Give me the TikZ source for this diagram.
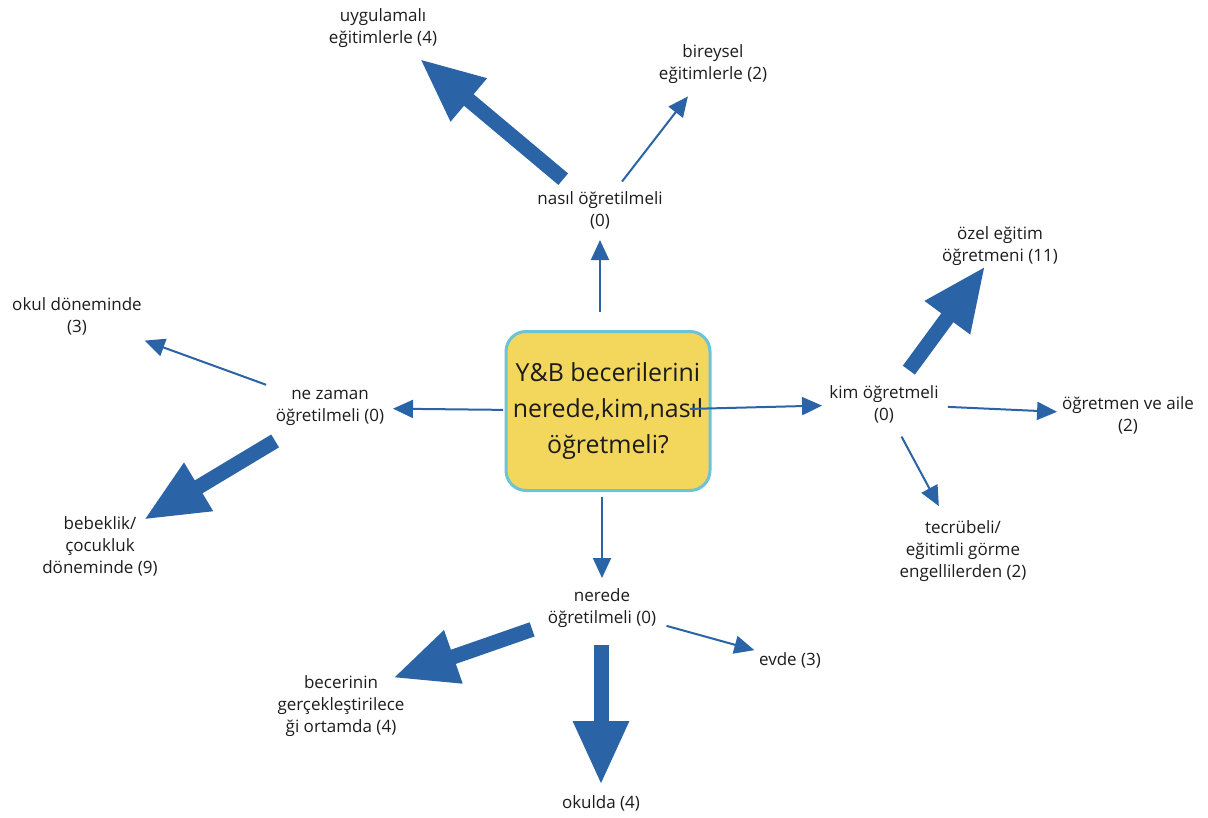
\documentclass[tikz,border=0pt]{standalone}
\usepackage{fontspec}
\setmainfont{Open Sans}
\usetikzlibrary{arrows.meta}
\definecolor{link}   {HTML}{2A63A6}
\definecolor{ink}    {HTML}{1C1C1C}
\definecolor{boxfill}{HTML}{F3D65C}
\definecolor{boxline}{HTML}{6AC4D6}

\begin{document}
\begin{tikzpicture}[x=1pt, y=-1pt,
    lbl/.style={align=center, text=ink, inner sep=0pt,
      font=\fontsize{17}{22}\selectfont},
    thinarr/.style={draw=link, line width=2pt,
      -{Triangle[length=20pt, width=18pt]}},
    thickarr/.style={draw=link, line width=15pt,
      -{Triangle[length=64pt, width=52pt]}}]

    % --- the question in the middle -----------------------------------------
    \node[draw=boxline, line width=3pt, fill=boxfill, rounded corners=20pt,
      minimum width=204pt, minimum height=159pt, align=center, text=ink,
      font=\fontsize{24.9}{36}\selectfont] (B) at (608, 411)
      {Y\&B becerilerini\\nerede,kim,nasıl\\öğretmeli?};

    % --- the four sub-questions ----------------------------------------------
    \node[lbl] (N) at (600, 210) {nasıl öğretilmeli\\(0)};
    \node[lbl] (Z) at (330, 408) {ne zaman\\öğretilmeli (0)};
    \node[lbl] (K) at (884, 404) {kim öğretmeli\\(0)};
    \node[lbl] (R) at (602, 608) {nerede\\öğretilmeli (0)};

    % --- answers ---------------------------------------------------------------
    \node[lbl] (U)  at (383, 28)  {uygulamalı\\eğitimlerle (4)};
    \node[lbl] (Bi) at (713, 64)  {bireysel\\eğitimlerle (2)};
    \node[lbl] (O)  at (77, 316)  {okul döneminde\\(3)};
    \node[lbl] (Be) at (100, 546) {bebeklik/\\çocukluk\\döneminde (9)};
    \node[lbl] (Oz) at (1000, 246) {özel eğitim\\öğretmeni (11)};
    \node[lbl] (A)  at (1128, 415) {öğretmen ve aile\\(2)};
    \node[lbl] (T)  at (963, 551) {tecrübeli/\\eğitimli görme\\engellilerden (2)};
    \node[lbl] (E)  at (790, 660) {evde (3)};
    \node[lbl] (G)  at (341, 706) {becerinin\\gerçekleştirilece\\ği ortamda (4)};
    \node[lbl] (Ok) at (601, 803) {okulda (4)};

    % --- links, thick ones carry the larger counts ----------------------------
    \draw[thinarr, shorten <=99pt, shorten >=30pt] (N |- B) -- (N.center);
    \draw[thinarr, shorten <=105pt, shorten >=63pt] (B.center) -- (Z.center);
    \draw[thinarr, shorten <=82pt, shorten >=62pt] (B.center) -- (K.center);
    \draw[thinarr, shorten <=86pt, shorten >=30pt] (R |- B) -- (R.center);

    \draw[thickarr, shorten <=48pt, shorten >=48pt] (N.center) -- (U.center);
    \draw[thinarr, shorten <=36pt, shorten >=41pt] (N.center) -- (Bi.center);

    \draw[thinarr, shorten <=68pt, shorten >=72pt] (Z.center) -- (O.center);
    \draw[thickarr, shorten <=64pt, shorten >=51pt] (Z.center) -- (Be.center);

    \draw[thickarr, shorten <=42pt, shorten >=25pt] (K.center) -- (Oz.center);
    \draw[thinarr, shorten <=64pt, shorten >=71pt] (K.center) -- (A.center);
    \draw[thinarr, shorten <=37pt, shorten >=51pt] (K.center) -- (T.center);

    \draw[thinarr, shorten <=67pt, shorten >=37pt] (R.center) -- (E.center);
    \draw[thickarr, shorten <=74pt, shorten >=55pt]
      ([yshift=3pt]R.center) -- ([yshift=10pt]G.center);
    \draw[thickarr, shorten <=37pt, shorten >=18pt] (Ok |- R) -- (Ok.center);

    \useasboundingbox (0, 0) rectangle (1208, 817);
\end{tikzpicture}
\end{document}
